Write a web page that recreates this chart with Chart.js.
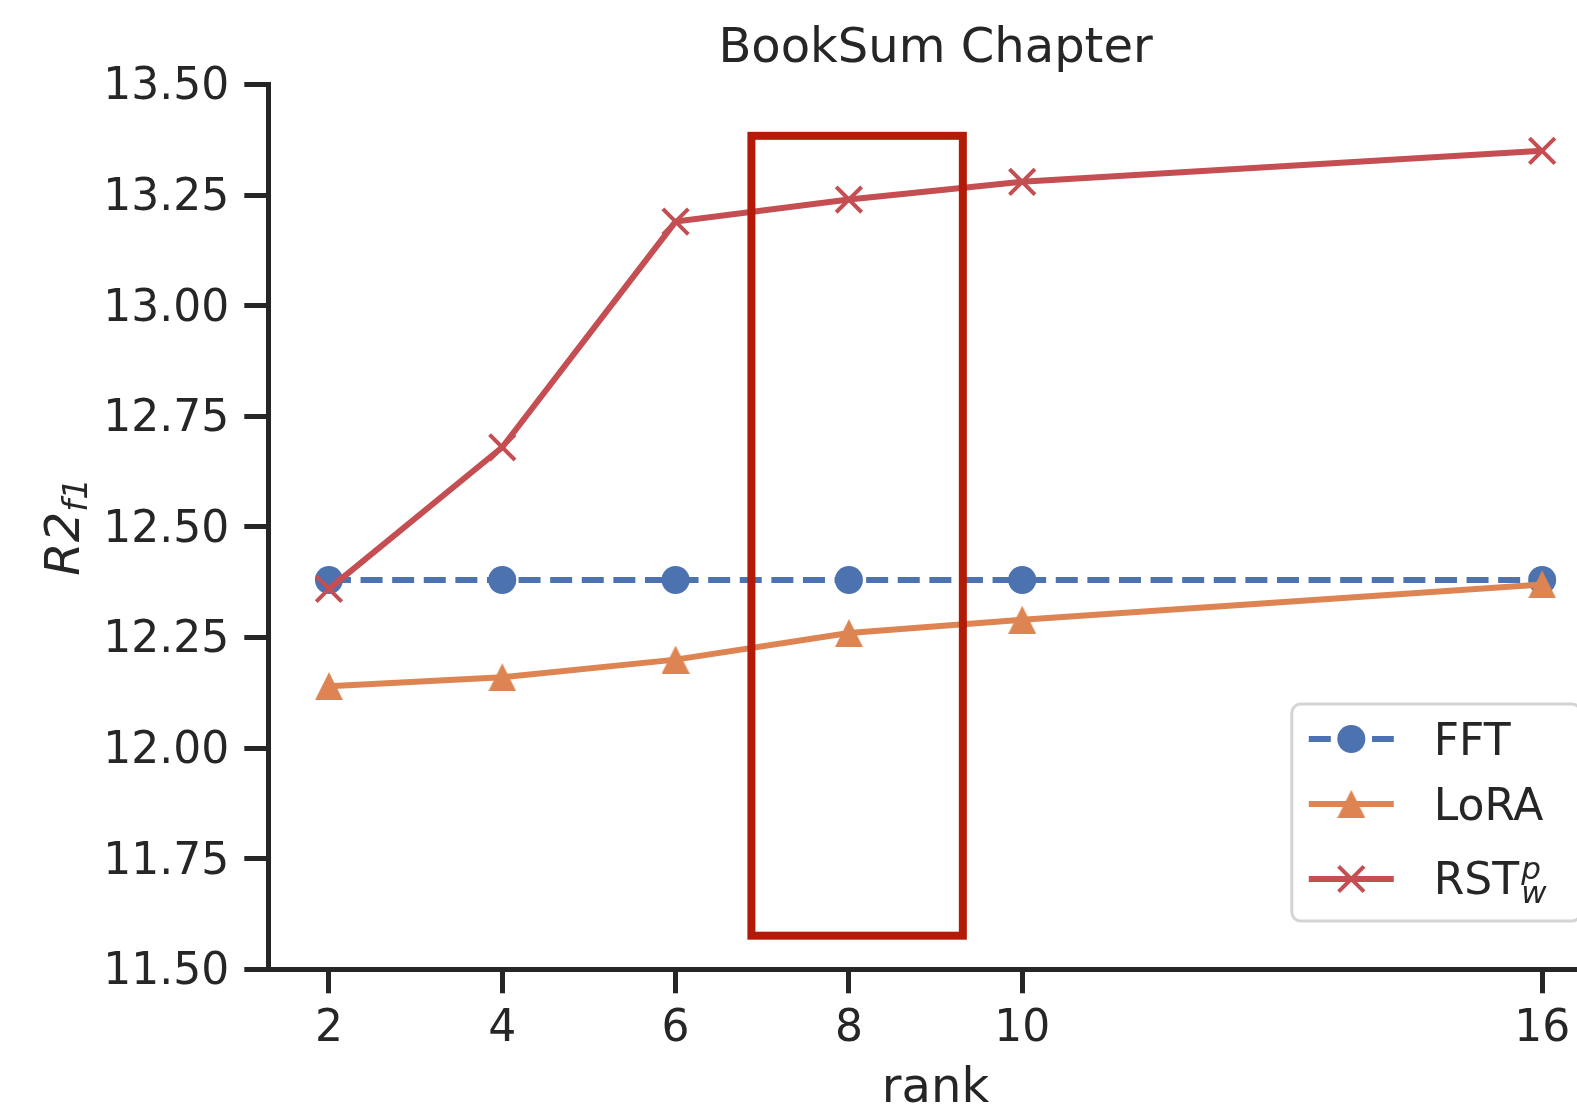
<!DOCTYPE html>
<html><head><meta charset="utf-8">
<script src="https://cdn.jsdelivr.net/npm/chart.js@4/dist/chart.umd.min.js"></script>
<style>html,body{margin:0;padding:0;background:#fff;overflow:hidden;width:1577px;height:1108px}canvas{display:block}</style>
</head><body>
<canvas id="c" width="1610" height="1108" style="width:1610px;height:1108px"></canvas>
<script>
const ranks = [2, 4, 6, 8, 10, 16];
const fftValues = [12.38, 12.38, 12.38, 12.38, 12.38, 12.38];
const loraValues = [12.14, 12.16, 12.20, 12.26, 12.29, 12.37];
const rstValues = [12.36, 12.68, 13.19, 13.24, 13.28, 13.35];
const xTickValues = [2, 4, 6, 8, 10, 16];
const yTickValues = [11.5, 11.75, 12, 12.25, 12.5, 12.75, 13, 13.25, 13.5];
const seriesNames = ['FFT', 'LoRA', 'RST'];
const titleText = 'BookSum Chapter';
const xLabel = 'rank';
const highlightX = [6.875, 9.315];
const highlightY = [11.576, 13.384];

const BLUE = '#4C72B0', ORANGE = '#DD8452', RED = '#C44E52', BOX = '#B31B08', TXT = '#262626';
const FAM = "'DejaVu Sans'";

function makeTriangle(size, color) {
  const c = document.createElement('canvas');
  c.width = c.height = size;
  const g = c.getContext('2d');
  g.fillStyle = color;
  g.beginPath(); g.moveTo(size / 2, 0); g.lineTo(size, size); g.lineTo(0, size); g.closePath(); g.fill();
  return c;
}
const triImg = makeTriangle(28, ORANGE);

function pts(vals) { return ranks.map((r, i) => ({ x: r, y: vals[i] })); }

const overlay = {
  id: 'overlay',
  afterLayout(chart) {
    const ys = chart.scales.y;
    if (ys && !ys._patched) {
      const orig = ys.drawLabels;
      ys.drawLabels = function (area) {
        const c = this.ctx; c.save(); c.translate(0, 3.5); orig.call(this, area); c.restore();
      };
      ys._patched = true;
    }
  },
  afterDatasetsDraw(chart) {
    const { ctx, chartArea: a, scales: { x, y } } = chart;
    // highlight box
    ctx.save();
    ctx.strokeStyle = BOX; ctx.lineWidth = 8; ctx.lineJoin = 'miter';
    const x0 = x.getPixelForValue(highlightX[0]), x1 = x.getPixelForValue(highlightX[1]);
    const y0 = y.getPixelForValue(highlightY[1]), y1 = y.getPixelForValue(highlightY[0]);
    ctx.strokeRect(x0, y0, x1 - x0, y1 - y0);
    ctx.restore();

    // legend
    ctx.save();
    const lx = a.right - 311, ly = 704, lw = 289, lh = 217, rr = 9;
    ctx.beginPath();
    ctx.moveTo(lx + rr, ly); ctx.lineTo(lx + lw - rr, ly); ctx.arcTo(lx + lw, ly, lx + lw, ly + rr, rr);
    ctx.lineTo(lx + lw, ly + lh - rr); ctx.arcTo(lx + lw, ly + lh, lx + lw - rr, ly + lh, rr);
    ctx.lineTo(lx + rr, ly + lh); ctx.arcTo(lx, ly + lh, lx, ly + lh - rr, rr);
    ctx.lineTo(lx, ly + rr); ctx.arcTo(lx, ly, lx + rr, ly, rr); ctx.closePath();
    ctx.fillStyle = 'rgba(255,255,255,0.8)'; ctx.fill();
    ctx.strokeStyle = '#d4d4d4'; ctx.lineWidth = 3; ctx.stroke();

    const hx0 = lx + 17, hx1 = lx + 102, mx = (hx0 + hx1) / 2, tx = lx + 142;
    const rows = [ly + 35, ly + 100, ly + 175];
    // FFT
    ctx.strokeStyle = BLUE; ctx.lineWidth = 6; ctx.setLineDash([22, 9.6]);
    ctx.beginPath(); ctx.moveTo(hx0, rows[0]); ctx.lineTo(hx1, rows[0]); ctx.stroke();
    ctx.setLineDash([]);
    ctx.fillStyle = BLUE; ctx.beginPath(); ctx.arc(mx, rows[0], 14, 0, Math.PI * 2); ctx.fill();
    // LoRA
    ctx.strokeStyle = ORANGE;
    ctx.beginPath(); ctx.moveTo(hx0, rows[1]); ctx.lineTo(hx1, rows[1]); ctx.stroke();
    ctx.drawImage(triImg, mx - 14, rows[1] - 14);
    // RST
    ctx.strokeStyle = RED;
    ctx.beginPath(); ctx.moveTo(hx0, rows[2]); ctx.lineTo(hx1, rows[2]); ctx.stroke();
    ctx.lineWidth = 4; const d = 12.7;
    ctx.beginPath(); ctx.moveTo(mx - d, rows[2] - d); ctx.lineTo(mx + d, rows[2] + d);
    ctx.moveTo(mx - d, rows[2] + d); ctx.lineTo(mx + d, rows[2] - d); ctx.stroke();

    ctx.fillStyle = TXT; ctx.textBaseline = 'alphabetic'; ctx.textAlign = 'left';
    ctx.font = '44px ' + FAM;
    ctx.fillText(seriesNames[0], tx, rows[0] + 16);
    ctx.fillText(seriesNames[1], tx, rows[1] + 16);
    ctx.fillText(seriesNames[2], tx, rows[2] + 15);
    const rw = ctx.measureText(seriesNames[2]).width;
    ctx.font = 'italic 31px ' + FAM;
    ctx.fillText('p', tx + rw + 2, rows[2]);
    ctx.fillText('w', tx + rw + 2, rows[2] + 24);
    ctx.restore();
  },
  afterDraw(chart) {
    const { ctx, chartArea: a } = chart;
    const cx = (a.left + a.right) / 2;
    ctx.save();
    ctx.fillStyle = TXT; ctx.textBaseline = 'alphabetic'; ctx.textAlign = 'center';
    ctx.font = '48px ' + FAM;
    ctx.fillText(titleText, cx, 62);
    ctx.fillText(xLabel, cx, 1102);
    // y label R2_{f1}
    const cy = (a.top + a.bottom) / 2;
    ctx.font = 'italic 48px ' + FAM;
    const w1 = ctx.measureText('R2').width;
    ctx.font = 'italic 34px ' + FAM;
    const w2 = ctx.measureText('f1').width;
    ctx.translate(79, cy);
    ctx.rotate(-Math.PI / 2);
    ctx.textAlign = 'left';
    const sx = -(w1 + w2) / 2;
    ctx.font = 'italic 48px ' + FAM;
    ctx.fillText('R2', sx, 0);
    ctx.font = 'italic 34px ' + FAM;
    ctx.fillText('f1', sx + w1, 8);
    ctx.restore();
  }
};

const tickFont = { family: 'DejaVu Sans', size: 44 };
const axisGrid = { display: true, drawOnChartArea: false, drawTicks: true, tickLength: 24, tickWidth: 5, tickColor: TXT };
const axisBorder = { display: true, color: TXT, width: 5 };

new Chart(document.getElementById('c'), {
  type: 'line',
  data: {
    datasets: [
      { label: seriesNames[0], data: pts(fftValues), borderColor: BLUE, backgroundColor: BLUE, borderWidth: 6,
        borderDash: [22, 9.6], pointStyle: 'circle', pointRadius: 14, pointBorderWidth: 0,
        pointBackgroundColor: BLUE, fill: false, tension: 0, order: 3 },
      { label: seriesNames[1], data: pts(loraValues), borderColor: ORANGE, backgroundColor: ORANGE, borderWidth: 6,
        pointStyle: triImg, pointRadius: 14, fill: false, tension: 0, order: 2 },
      { label: seriesNames[2], data: pts(rstValues), borderColor: RED, backgroundColor: RED, borderWidth: 6,
        pointStyle: 'crossRot', pointRadius: 18, pointBorderWidth: 4, pointBorderColor: RED,
        fill: false, tension: 0, order: 1 }
    ]
  },
  options: {
    responsive: false, animation: false, devicePixelRatio: 1,
    layout: { autoPadding: false, padding: { top: 84.5, left: 0, right: 7.2, bottom: 0 } },
    plugins: { legend: { display: false }, tooltip: { enabled: false }, title: { display: false } },
    scales: {
      x: {
        type: 'linear', min: 1.3, max: 16.7,
        afterBuildTicks: s => { s.ticks = xTickValues.map(v => ({ value: v })); },
        afterFit: s => { s.height = 138.7; s.paddingLeft = 0; s.paddingRight = 0; },
        ticks: { font: tickFont, color: TXT, padding: 10, maxRotation: 0, autoSkip: false },
        grid: axisGrid, border: axisBorder
      },
      y: {
        type: 'linear', min: 11.5, max: 13.5,
        afterBuildTicks: s => { s.ticks = yTickValues.map(v => ({ value: v })); },
        afterFit: s => { s.width = 268.3; s.paddingTop = 0; s.paddingBottom = 0; },
        ticks: { font: tickFont, color: TXT, padding: 15, autoSkip: false, callback: v => Number(v).toFixed(2) },
        grid: axisGrid, border: axisBorder
      }
    }
  },
  plugins: [overlay]
});
</script>
</body></html>
